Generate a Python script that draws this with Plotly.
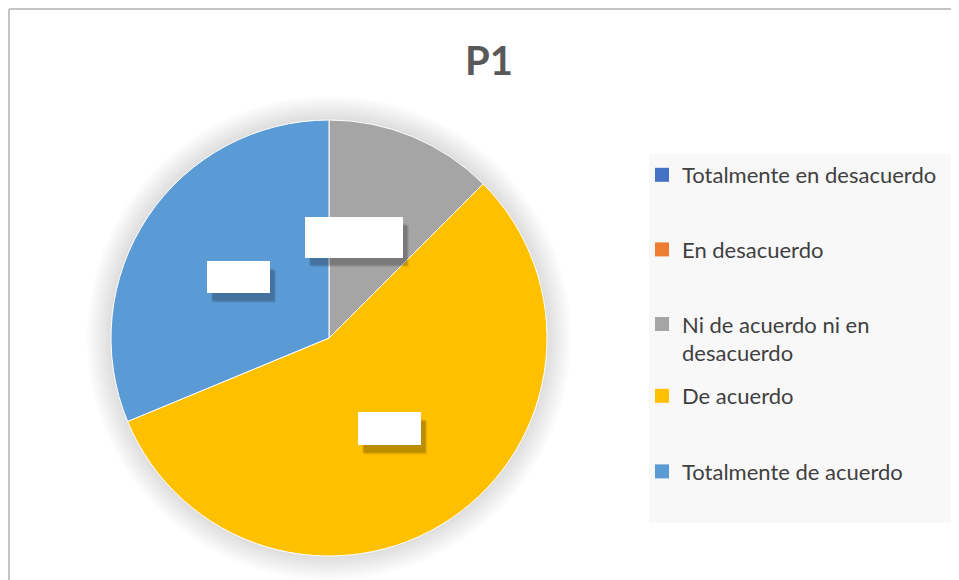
import math
import plotly.graph_objects as go

# ---- data ----
categories = ["Totalmente en desacuerdo", "En desacuerdo",
              "Ni de acuerdo ni en desacuerdo", "De acuerdo", "Totalmente de acuerdo"]
legend_labels = ["Totalmente en desacuerdo", "En desacuerdo",
                 "Ni de acuerdo ni en<br>desacuerdo", "De acuerdo", "Totalmente de acuerdo"]
counts = [0, 0, 4, 18, 10]
colors = ["#4472C4", "#ED7D31", "#A5A5A5", "#FFC000", "#5B9BD5"]
title_text = "P1"

# ---- layout constants (figure pixel coordinates) ----
W, H = 951, 572
CX, CY, R = 321, 330, 218          # pie centre / radius in px
FONT = "Lato"


def fx(x):
    return x / W


def fy(y):
    return 1 - y / H


fig = go.Figure()

fig.add_trace(go.Pie(
    labels=categories, values=counts, sort=False, direction="clockwise",
    rotation=0, marker=dict(colors=colors, line=dict(color="white", width=1)),
    textinfo="none", showlegend=False,
    domain=dict(x=[fx(CX - R), fx(CX + R)], y=[fy(CY + R), fy(CY - R)]),
))

# legend entries (items 1-3 in legend, 4-5 in legend2 for Excel-like spacing)
for i, (lab, col) in enumerate(zip(legend_labels, colors)):
    fig.add_trace(go.Scatter(
        x=[None], y=[None], mode="markers", name=lab,
        marker=dict(symbol="square", size=14, color=col),
        legendgroup=f"g{i}", legend="legend" if i < 3 else "legend2",
    ))

shapes = []
# soft shadow around pie
for k in range(1, 9):
    rr = R + 3 * k
    shapes.append(dict(type="circle", xref="paper", yref="paper", layer="below",
                       x0=fx(CX - rr), x1=fx(CX + rr), y0=fy(CY + rr), y1=fy(CY - rr),
                       fillcolor="rgba(0,0,0,0.014)", line=dict(width=0)))
# legend background
shapes.append(dict(type="rect", xref="paper", yref="paper", layer="below",
                   x0=fx(641), x1=fx(946), y0=fy(515), y1=fy(146),
                   fillcolor="#F8F8F8", line=dict(width=0)))
# chart border (top and left edges visible)
shapes.append(dict(type="line", xref="paper", yref="paper", layer="above",
                   x0=fx(1), x1=1, y0=fy(1), y1=fy(1),
                   line=dict(color="#C4C4C4", width=2)))
shapes.append(dict(type="line", xref="paper", yref="paper", layer="above",
                   x0=fx(1), x1=fx(1), y0=0, y1=fy(1),
                   line=dict(color="#C4C4C4", width=2)))

# data labels (white boxes with shadow), placed at half radius along each slice's mid-angle
total = sum(counts)
box_w = [63, 63, 98, 63, 63]
box_h = [32, 32, 41, 33, 32]
box_dx = [0, 0, -17, 0, 0]
annotations = []
cum = 0
for i, v in enumerate(counts):
    if v == 0:
        continue
    mid = (cum + v / 2) / total * 2 * math.pi
    cum += v
    px = CX + 0.5 * R * math.sin(mid) + box_dx[i]
    py = CY - 0.5 * R * math.cos(mid)
    # blurred-ish shadow
    for ox, oy, a in [(5, 8, 0.10), (6, 9, 0.10), (4, 7, 0.08)]:
        shapes.append(dict(type="rect", xref="paper", yref="paper", layer="above",
                           x0=fx(px - box_w[i] / 2 + ox), x1=fx(px + box_w[i] / 2 + ox),
                           y0=fy(py + box_h[i] / 2 + oy), y1=fy(py - box_h[i] / 2 + oy),
                           fillcolor=f"rgba(0,0,0,{a})", line=dict(width=0)))
    txt = f"{v / total * 100:.0f}%"
    annotations.append(dict(
        x=fx(px), y=fy(py), xref="paper", yref="paper", showarrow=False,
        xanchor="center", yanchor="middle",
        text=txt, width=box_w[i], height=box_h[i],
        bgcolor="white", borderpad=0, borderwidth=0,
        font=dict(family=FONT, size=16, color="white"),
    ))

legend_font = dict(family=FONT, size=22, color="#404040")
fig.update_layout(
    width=W, height=H, margin=dict(l=0, r=0, t=0, b=0),
    paper_bgcolor="white", plot_bgcolor="rgba(0,0,0,0)",
    title=dict(text=f"<b>{title_text}</b>", x=fx(481), xanchor="center",
               y=fy(53), yanchor="middle",
               font=dict(family=FONT, size=40, color="#595959")),
    xaxis=dict(visible=False), yaxis=dict(visible=False),
    legend=dict(x=fx(634), xanchor="left", y=fy(146), yanchor="top",
                tracegroupgap=43, bgcolor="rgba(0,0,0,0)", font=legend_font,
                itemclick=False, valign="top"),
    legend2=dict(x=fx(634), xanchor="left", y=fy(367), yanchor="top",
                 tracegroupgap=44, bgcolor="rgba(0,0,0,0)", font=legend_font,
                 itemclick=False, valign="top"),
    shapes=shapes, annotations=annotations,
)

fig.write_html("out.html", post_script="document.body.style.overflow='hidden';")
